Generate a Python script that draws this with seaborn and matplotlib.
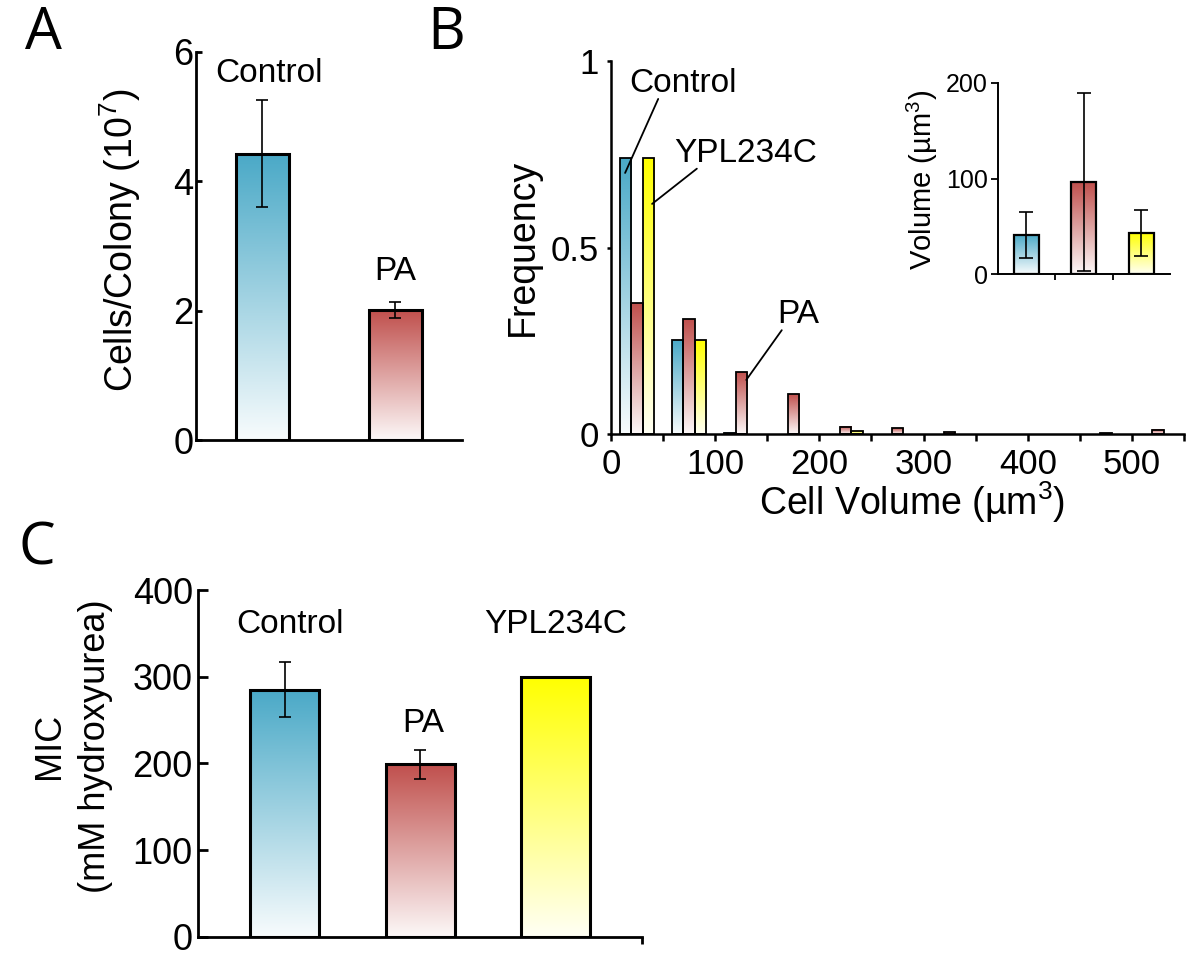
import numpy as np
import pandas as pd
import matplotlib
matplotlib.use("Agg")
import matplotlib.pyplot as plt
import matplotlib.colors as mcolors
import seaborn as sns

# panel A: cells per colony (10^7)
a_groups = ["Control", "PA"]
a_means = [4.43, 2.01]
a_err = [0.82, 0.13]

# panel B: cell volume histogram (bin centres, um^3)
b_bins = [25, 75, 125, 175, 225, 275, 325, 375, 425, 475, 525]
b_control = [0.74, 0.252, 0.004, 0, 0, 0, 0, 0, 0, 0, 0]
b_pa = [0.35, 0.308, 0.165, 0.107, 0.02, 0.016, 0.005, 0, 0, 0.002, 0.012]
b_ypl = [0.74, 0.252, 0, 0, 0.007, 0, 0, 0, 0, 0, 0]

# panel B inset: mean volume
inset_groups = ["Control", "PA", "YPL234C"]
inset_means = [41, 96, 43]
inset_err = [24, 93, 24]

# panel C: MIC (mM hydroxyurea)
c_groups = ["Control", "PA", "YPL234C"]
c_means = [285, 199, 300]
c_err = [32, 17, np.nan]

colors = {"Control": "#4aa9c7", "PA": "#c0504d", "YPL234C": "#ffff00"}

sns.set_style("ticks")
plt.rcParams["font.family"] = ["Liberation Sans", "DejaVu Sans"]
plt.rcParams["mathtext.fontset"] = "custom"
plt.rcParams["mathtext.rm"] = "Liberation Sans"
plt.rcParams["mathtext.default"] = "regular"
for key in ["text.color", "axes.labelcolor", "xtick.color", "ytick.color", "axes.edgecolor"]:
    plt.rcParams[key] = "black"


def gradient_fill(ax, fade=0.96):
    # replace flat bar colour by a vertical fade to white
    for bar in list(ax.patches):
        h = bar.get_height()
        if h <= 0:
            bar.set_visible(False)
            continue
        x0, y0, w = bar.get_x(), bar.get_y(), bar.get_width()
        top = np.array(mcolors.to_rgb(bar.get_facecolor()))
        low = top + (1 - top) * fade
        t = np.linspace(0, 1, 200)[:, None]
        img = (low + (top - low) * t)[:, None, :]
        ax.imshow(img, extent=(x0, x0 + w, y0, y0 + h), origin="lower",
                  aspect="auto", interpolation="bilinear",
                  zorder=bar.get_zorder() - 0.05)
        bar.set_facecolor("none")


fig = plt.figure(figsize=(12, 9.66), dpi=100)

# ---------------- A ----------------
axA = fig.add_axes([0.1633, 0.5445, 0.2217, 0.4017])
sns.barplot(x=a_groups, y=a_means, hue=a_groups, palette=colors, legend=False,
            width=0.4, saturation=1, edgecolor="black", linewidth=2.2,
            errorbar=None, ax=axA)
gradient_fill(axA)
axA.errorbar(np.arange(len(a_groups)), a_means, yerr=a_err, fmt="none",
             ecolor="black", elinewidth=1.2, capsize=4, capthick=1.2, zorder=5)
axA.set_xlim(-0.5, 1.5)
axA.set_ylim(0, 6)
axA.set_xticks([])
axA.set_yticks([0, 2, 4, 6])
axA.tick_params(axis="y", direction="in", length=4, width=2, labelsize=26, pad=2)
axA.set_ylabel(r"Cells/Colony (10$^{7}$)", fontsize=27)
axA.yaxis.set_label_coords(-0.2, 0.515)
axA.text(0.05, 5.67, "Control", ha="center", va="center", fontsize=24)
axA.text(1.0, 2.6, "PA", ha="center", va="center", fontsize=24)
sns.despine(ax=axA)
for s in axA.spines.values():
    s.set_linewidth(2)

# ---------------- B ----------------
axB = fig.add_axes([0.5092, 0.5507, 0.4775, 0.3861])
hist = pd.DataFrame({
    "bin": b_bins * 3,
    "freq": b_control + b_pa + b_ypl,
    "strain": ["Control"] * len(b_bins) + ["PA"] * len(b_bins) + ["YPL234C"] * len(b_bins),
})
sns.barplot(data=hist, x="bin", y="freq", hue="strain",
            hue_order=["Control", "PA", "YPL234C"], palette=colors,
            native_scale=True, width=0.66, saturation=1, edgecolor="black",
            linewidth=1.3, errorbar=None, legend=False, ax=axB)
gradient_fill(axB)
axB.set_xlim(0, 550)
axB.set_ylim(0, 1)
axB.set_xticks([0, 100, 200, 300, 400, 500])
axB.set_xticks([50, 150, 250, 350, 450, 550], minor=True)
axB.set_yticks([0, 0.5, 1], ["0", "0.5", "1"])
axB.tick_params(axis="x", which="both", direction="out", length=5, width=1.8,
                labelsize=25, pad=5)
axB.tick_params(axis="y", direction="out", length=3, width=1.8, labelsize=25, pad=6)
axB.set_xlabel("Cell Volume (µm$^{3}$)", fontsize=27)
axB.set_ylabel("Frequency", fontsize=27)
axB.xaxis.set_label_coords(0.526, -0.122)
axB.yaxis.set_label_coords(-0.122, 0.5)
sns.despine(ax=axB)
for s in axB.spines.values():
    s.set_linewidth(1.8)

line = dict(arrowstyle="-", lw=1.3, color="black", shrinkA=0, shrinkB=0, patchA=None)
axB.annotate("Control", xy=(13.5, 0.70), xytext=(69, 0.94), ha="center", va="center",
             fontsize=24, arrowprops=dict(line, relpos=(0.27, 0)))
axB.annotate("YPL234C", xy=(39.4, 0.617), xytext=(129, 0.753), ha="center", va="center",
             fontsize=24, arrowprops=dict(line, relpos=(0.16, 0)))
axB.annotate("PA", xy=(129.8, 0.145), xytext=(180, 0.32), ha="center", va="center",
             fontsize=24, arrowprops=dict(line, relpos=(0.1, 0)))

# inset
axI = fig.add_axes([0.8314, 0.716, 0.1436, 0.1983])
axI.patch.set_alpha(0)
sns.barplot(x=inset_groups, y=inset_means, hue=inset_groups, palette=colors,
            legend=False, width=0.43, saturation=1, edgecolor="black",
            linewidth=1.6, errorbar=None, ax=axI)
gradient_fill(axI)
axI.errorbar(np.arange(len(inset_groups)), inset_means, yerr=inset_err, fmt="none",
             ecolor="black", elinewidth=1.2, capsize=5, capthick=1.2, zorder=5)
axI.set_xlim(-0.5, 2.5)
axI.set_ylim(0, 200)
axI.set_xticks([0.5, 1.5], ["", ""])
axI.set_yticks([0, 100, 200])
axI.tick_params(axis="x", direction="out", length=4, width=1.3)
axI.tick_params(axis="y", direction="out", length=5, width=1.3, labelsize=18, pad=2)
axI.set_ylabel("Volume (µm$^{3}$)", fontsize=21)
axI.yaxis.set_label_coords(-0.335, 0.49)
sns.despine(ax=axI)
for s in axI.spines.values():
    s.set_linewidth(1.4)

# ---------------- C ----------------
axC = fig.add_axes([0.1653, 0.0303, 0.3695, 0.3589])
sns.barplot(x=c_groups, y=c_means, hue=c_groups, palette=colors, legend=False,
            width=0.51, saturation=1, edgecolor="black", linewidth=2.2,
            errorbar=None, ax=axC)
gradient_fill(axC)
axC.errorbar(np.arange(len(c_groups)), c_means, yerr=c_err, fmt="none",
             ecolor="black", elinewidth=1.2, capsize=4, capthick=1.2, zorder=5)
axC.set_xlim(-0.64, 2.64)
axC.set_ylim(0, 400)
axC.set_xticks([2.64], [""])
axC.set_yticks([0, 100, 200, 300, 400])
axC.tick_params(axis="x", direction="out", length=5, width=2)
axC.tick_params(axis="y", direction="in", length=7, width=2, labelsize=26, pad=4)
axC.set_ylabel("MIC\n(mM hydroxyurea)", fontsize=26, multialignment="center",
               linespacing=1.4)
axC.yaxis.set_label_coords(-0.192, 0.55)
axC.text(0.04, 360, "Control", ha="center", va="center", fontsize=24)
axC.text(1.02, 246, "PA", ha="center", va="center", fontsize=24)
axC.text(2.0, 360, "YPL234C", ha="center", va="center", fontsize=24)
sns.despine(ax=axC)
for s in axC.spines.values():
    s.set_linewidth(2)

# panel letters
for letter, x, y in [("A", 43.5, 34), ("B", 446.5, 34), ("C", 37, 549.5)]:
    fig.text(x / 1200, 1 - y / 966, letter, ha="center", va="center",
             fontsize=42, family=["Open Sans", "DejaVu Sans"])

fig.savefig("out.png", dpi=100)
